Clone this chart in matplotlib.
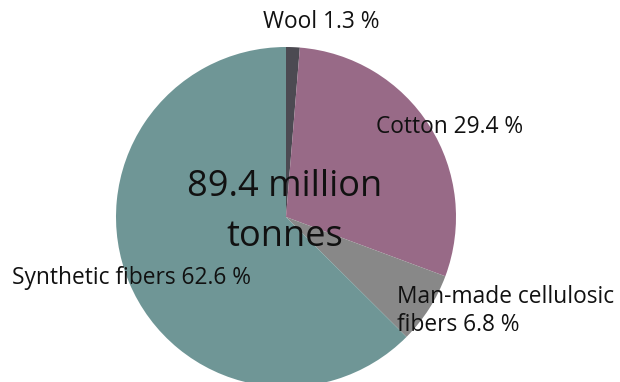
import matplotlib.pyplot as plt

plt.rcParams['font.family'] = ['Open Sans', 'DejaVu Sans']

fibers = ['Wool', 'Cotton', 'Man-made cellulosic\nfibers', 'Synthetic fibers']
shares = [1.3, 29.4, 6.8, 62.6]
colors = ['#4c4a52', '#986a87', '#888888', '#6f9696']
total_lines = ['89.4 million', 'tonnes']

fig = plt.figure(figsize=(6.2, 3.82), dpi=100)
ax = fig.add_axes([0, 0, 1, 1])

ax.pie(shares, colors=colors, startangle=90, counterclock=False,
       center=(286, 165), radius=170, frame=True,
       wedgeprops=dict(linewidth=0))
ax.set_xlim(0, 620)
ax.set_ylim(0, 382)
ax.set_aspect('equal')
ax.axis('off')

# label anchors: left edge, vertical middle
label_pos = [(263, 360), (376, 255), (397, 71), (12, 104)]
for name, val, (x, y) in zip(fibers, shares, label_pos):
    ax.text(x, y, f'{name} {val} %', ha='left', va='center', fontsize=16.4,
            color='#111111', linespacing=1.22)

for line, y in zip(total_lines, [195, 145]):
    ax.text(285, y, line, ha='center', va='center', fontsize=26,
            color='#111111')

fig.savefig('out.png', dpi=100)
